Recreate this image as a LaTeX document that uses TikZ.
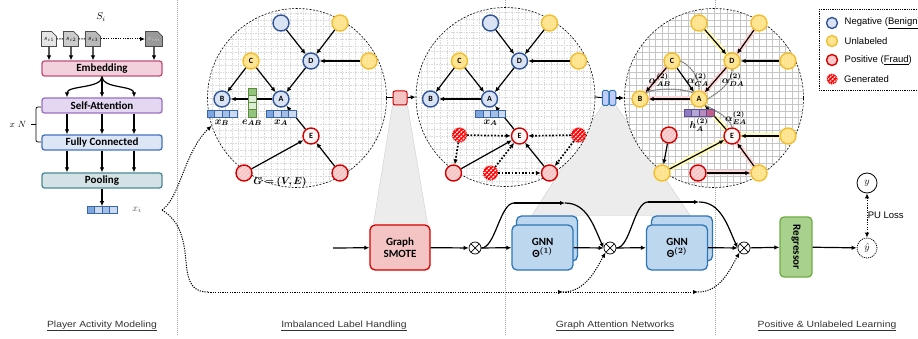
\documentclass[tikz,border=0pt]{standalone}
\usepackage{amsmath,amssymb,bm}
\usepackage{fontspec}
\setsansfont{Carlito}
\newfontfamily\arialfont{Liberation Sans}
\newfontfamily\secfam[FakeStretch=1.15]{Liberation Sans}
\usetikzlibrary{arrows.meta,positioning,calc,shapes.misc,patterns,patterns.meta}

\definecolor{negb}{HTML}{2F5597}
\definecolor{negf}{HTML}{DAE3F3}
\definecolor{unlb}{HTML}{F2BE2E}
\definecolor{unlf}{HTML}{FFE38A}
\definecolor{posb}{HTML}{D40000}
\definecolor{posf}{HTML}{F4C4C4}
\definecolor{embb}{HTML}{C0507A}
\definecolor{embf}{HTML}{F2D0DC}
\definecolor{satb}{HTML}{9A6FC0}
\definecolor{satf}{HTML}{E3D7F1}
\definecolor{fcb}{HTML}{4472C4}
\definecolor{fcf}{HTML}{DCE6F5}
\definecolor{poolb}{HTML}{4A8A96}
\definecolor{poolf}{HTML}{D4E2E5}
\definecolor{gnnb}{HTML}{2E75B6}
\definecolor{gnnf}{HTML}{BDD7EE}
\definecolor{regb}{HTML}{70AD47}
\definecolor{regf}{HTML}{A9D18E}
\definecolor{vecb}{HTML}{3A66A8}
\definecolor{vb1}{HTML}{7EA6DE}
\definecolor{vb2}{HTML}{CBDAF0}
\definecolor{vb3}{HTML}{A4BFE6}
\definecolor{grb}{HTML}{5B8C3E}
\definecolor{gr1}{HTML}{93C47D}
\definecolor{gr2}{HTML}{DDEED6}
\definecolor{hp1}{HTML}{8E7CC3}
\definecolor{hp2}{HTML}{B4A7D6}
\definecolor{hp3}{HTML}{B48CC0}
\definecolor{hp4}{HTML}{C0608C}
\definecolor{hpb}{HTML}{5E4E93}

\newcommand\boxfont{\sffamily\bfseries\fontsize{11}{12}\selectfont}
\newcommand\letterfont{\sffamily\bfseries\fontsize{8}{9}\selectfont}
\newcommand\legfont{\arialfont\fontsize{9.5}{10}\selectfont}
\newcommand\secfont{\secfam\fontsize{9}{10}\selectfont}

\pgfdeclarelayer{back}
\pgfdeclarelayer{mid}
\pgfdeclarelayer{glow}
\pgfsetlayers{back,mid,glow,main}

\begin{document}
\begin{tikzpicture}[x=1pt,y=-1pt,>={Latex[length=5pt,width=4.5pt]},
  arr/.style={->,line width=1.2pt},
  darr/.style={->,line width=1.7pt,dash pattern=on 1.7pt off 1.7pt},
  pth/.style={line width=1pt,dash pattern=on 1.2pt off 1.2pt},
  blk/.style={draw,rounded corners=2.5pt,line width=1.3pt,font=\boxfont,inner sep=1pt},
  doc/.style={chamfered rectangle,chamfered rectangle corners=north east,chamfered rectangle xsep=3pt,
    draw=gray!60!black,line width=0.8pt,minimum width=15pt,minimum height=15pt,inner sep=0pt,font=\scriptsize},
  benign/.style={circle,draw=negb,fill=negf,line width=1.4pt,minimum size=16pt,inner sep=0pt,font=\letterfont},
  unlab/.style={circle,draw=unlb,line width=1.4pt,minimum size=16pt,inner sep=0pt,font=\letterfont,
    preaction={fill=unlf},preaction={pattern=dots,pattern color=white}},
  fraud/.style={circle,draw=posb,line width=1.4pt,minimum size=16pt,inner sep=0pt,font=\letterfont,
    preaction={fill=posf},preaction={pattern={Lines[angle=45,distance=3pt,line width=0.9pt]},pattern color=white!85!red}},
  fraudE/.style={circle,draw=posb,fill=red!4,line width=1.4pt,minimum size=16pt,inner sep=0pt,font=\letterfont},
  gen/.style={circle,minimum size=14pt,inner sep=0pt,draw=red,line width=1.2pt,dash pattern=on 1pt off 1pt,
    preaction={fill=red},preaction={pattern={Lines[angle=45,distance=3pt,line width=1.2pt]},pattern color=white}},
  graph/.style={circle,minimum size=179pt,inner sep=0pt,fill=white,draw,line width=0.6pt,
    dash pattern=on 2pt off 1.5pt,
    path picture={\draw[#1,line width=0.3pt,step=6.5pt] (path picture bounding box.south west) grid (path picture bounding box.north east);}},
  graph/.default={gray!30,dash pattern=on 1.5pt off 1pt},
  vec/.style n args={2}{draw=#2,line width=0.6pt,minimum width=30pt,minimum height=7pt,inner sep=0pt,
    path picture={
      \foreach \c [count=\i from 0,evaluate=\i as \j using \i/4,evaluate=\i as \k using (\i+1)/4] in {#1}
        \fill[\c] ($(path picture bounding box.south west)!\j!(path picture bounding box.south east)$) rectangle
                  ($(path picture bounding box.north west)!\k!(path picture bounding box.north east)$);
      \foreach \j in {0.25,0.5,0.75}
        \draw[#2,line width=0.5pt] ($(path picture bounding box.south west)!\j!(path picture bounding box.south east)$) --
                  ($(path picture bounding box.north west)!\j!(path picture bounding box.north east)$);}},
  vvec/.style n args={2}{draw=#2,line width=0.6pt,minimum width=8pt,minimum height=29pt,inner sep=0pt,
    path picture={
      \foreach \c [count=\i from 0,evaluate=\i as \j using \i/4,evaluate=\i as \k using (\i+1)/4] in {#1}
        \fill[\c] ($(path picture bounding box.north west)!\j!(path picture bounding box.south west)$) rectangle
                  ($(path picture bounding box.north east)!\k!(path picture bounding box.south east)$);
      \foreach \j in {0.25,0.5,0.75}
        \draw[#2,line width=0.5pt] ($(path picture bounding box.north west)!\j!(path picture bounding box.south west)$) --
                  ($(path picture bounding box.north east)!\j!(path picture bounding box.south east)$);}},
  otimes/.style={circle,draw,fill=white,line width=0.7pt,minimum size=12pt,inner sep=0pt,
    path picture={\draw (path picture bounding box.south west) -- (path picture bounding box.north east)
      (path picture bounding box.north west) -- (path picture bounding box.south east);}},
  gnn/.style={blk,draw=gnnb,fill=gnnf,rounded corners=5pt,minimum width=61pt,minimum height=45pt,align=center},
  rglow/.style={line width=5pt,red!16,line cap=round},
  yglow/.style={line width=5pt,yellow!30,line cap=round},
  att/.style={gray,line width=1.3pt,dash pattern=on 1pt off 1.3pt,line cap=round},
  sec/.style={font=\secfont,text=black!80}]

\useasboundingbox (0,0) rectangle (918,339);

% section separators
\begin{pgfonlayer}{back}
\foreach \x in {177,505,715}
  \draw[gray!70,line width=0.4pt,dash pattern=on 1pt off 1pt] (\x,0) -- (\x,336);
\end{pgfonlayer}

% ---------------- player activity modeling
\node (Si) at (101,17) {$S_i$};
\node[doc,fill=gray!20] (s1) at (49,39) {$s_{i1}$};
\node[doc,fill=gray!40] (s2) at (71,39) {$s_{i2}$};
\node[doc,fill=gray!55] (s3) at (93,39) {$s_{i3}$};
\node[doc,fill=gray!80,text=white!80!black] (sm) at (154,39) {$s_{im}$};
\draw[pth] (s1) -- (s2);
\draw[pth] (s2) -- (s3);
\draw[pth,->] (s3) -- (sm);

\node[blk,draw=embb,fill=embf,minimum width=120pt,minimum height=15pt] (emb) at (102,68.5) {Embedding};
\node[blk,draw=satb,fill=satf,minimum width=120pt,minimum height=15pt] (sa) at (102,105.5) {Self-Attention};
\node[blk,draw=fcb,fill=fcf,minimum width=120pt,minimum height=15pt] (fc) at (102,142.5) {Fully Connected};
\node[blk,draw=poolb,fill=poolf,minimum width=120pt,minimum height=15pt] (pool) at (102,180.5) {Pooling};

\foreach \s in {s1,s2,s3,sm}
  \draw[arr] (\s) -- (\s |- emb.north);
\draw[arr] (emb.south) .. controls +(0,12) and +(0,-12) .. (67,0 |- sa.north);
\draw[arr] (emb.south) -- (sa.north);
\draw[arr] (emb.south) .. controls +(0,12) and +(0,-12) .. (134,0 |- sa.north);
\foreach \x in {67,102,134} {
  \draw[arr] (\x,0 |- sa.south) -- (\x,0 |- fc.north);
  \draw[arr] (\x,0 |- fc.south) -- (\x,0 |- pool.north);
}
\draw[line width=0.7pt,rounded corners=2pt] (41,107) -- (36,107) -- (36,142) -- (41,142);
\draw[line width=0.7pt] (36,124.5) -- (31,124.5);
\node[font=\small] (rep) at (18,124.5) {$x\ N$};

\node[vec={vb1,vb2,vb3,vb2}{vecb}] (xi) at (102,210) {};
\draw[arr] (pool.south) -- (xi.north);
\node[text=black!70] (xil) at (137,210) {$x_i$};
\coordinate (fork) at (162,210);

% ---------------- zoom shades
\node[draw=posb,fill=posf,rounded corners=2pt,minimum size=14pt,line width=1pt] (sq1) at (400,98) {};
\node[draw=gnnb,fill=gnnf!80!blue!60,rounded corners=1.5pt,minimum width=6.5pt,minimum height=15pt,inner sep=0pt,line width=1pt] (sq2a) at (605.5,98) {};
\node[draw=gnnb,fill=gnnf!80!blue!60,rounded corners=1.5pt,minimum width=6.5pt,minimum height=15pt,inner sep=0pt,line width=1pt] (sq2b) at (612.5,98) {};

% ---------------- graphs
\begin{pgfonlayer}{mid}
\node[graph] (graph1) at (297,98) {};
\node[graph] (graph2) at (505.5,97) {};
\node[graph={gray!45,solid}] (graph3) at (714,98) {};
\end{pgfonlayer}

\begin{scope}[shift={(297,98)}]
\node[benign] (n1) at (-16,-75) {};
\node[unlab] (ua1) at (43,-75) {};
\node[benign] (D1) at (14,-37) {D};
\node[unlab] (ub1) at (72,-37) {};
\node[unlab] (C1) at (-46,-37) {C};
\node[benign] (B1) at (-75,1) {B};
\node[benign] (A1) at (-16,1) {A};
\node[fraudE] (E1) at (14,38) {E};
\node[fraud] (pa1) at (-53,75) {};
\node[fraud] (pb1) at (43,75) {};
\foreach \s/\t in {n1/D1,ua1/D1,ub1/D1,D1/A1,C1/B1,C1/A1,A1/B1,E1/A1,pa1/E1,pb1/E1}
  \draw[arr] (\s) -- (\t);
\node[vec={vb1,vb2,vb3,vb2}{vecb}] (xB1) at (-75,15.5) {};
\node[vvec={gr1,gr2,gr2,gr1}{grb}] (eAB1) at (-45,4.5) {};
\node[vec={vb1,vb2,vb3,vb2}{vecb}] (xA1) at (-16,15.5) {};
\node[below=-1pt of xB1] {$\bm{x_B}$};
\node[below=-1pt of eAB1] {$\bm{e_{AB}}$};
\node[below=-1pt of xA1] {$\bm{x_A}$};
\node (G) at (-17,84) {$\bm{G=(V,E)}$};
\end{scope}

\begin{scope}[shift={(505.5,97)}]
\node[benign] (n2) at (-15,-74) {};
\node[unlab] (ua2) at (44,-74) {};
\node[benign] (D2) at (14,-36) {D};
\node[unlab] (ub2) at (73,-36) {};
\node[unlab] (C2) at (-46,-36) {C};
\node[benign] (B2) at (-75,2) {B};
\node[benign] (A2) at (-16,2) {A};
\node[fraudE] (E2) at (14,39) {E};
\node[gen] (ga2) at (-46,38) {};
\node[gen] (gb2) at (73,38) {};
\node[gen] (gc2) at (-15,76) {};
\node[fraud] (pa2) at (-52,76) {};
\node[fraud] (pb2) at (44,76) {};
\foreach \s/\t in {n2/D2,ua2/D2,ub2/D2,D2/A2,C2/B2,C2/A2,A2/B2,E2/A2,pa2/E2,pb2/E2}
  \draw[arr] (\s) -- (\t);
\foreach \s/\t in {ga2/E2,gb2/E2,ga2/pa2,gb2/pb2,gc2/E2,gc2/pb2}
  \draw[darr] (\s) -- (\t);
\node[vec={vb1,vb2,vb3,vb2}{vecb}] (xA2) at (-15,16.5) {};
\node[below=-1pt of xA2] {$\bm{x_A}$};
\end{scope}

\begin{scope}[shift={(714,98)}]
\node[unlab] (n3) at (-15,-75) {};
\node[unlab] (ua3) at (45,-75) {};
\node[unlab] (D3) at (18,-37) {D};
\node[unlab] (ub3) at (74,-37) {};
\node[unlab] (C3) at (-42,-37) {C};
\node[unlab] (B3) at (-74,1) {B};
\node[unlab] (A3) at (-15,1) {A};
\node[fraudE] (E3) at (18,38) {E};
\node[unlab] (uc3) at (74,38) {};
\node[fraud] (pa3) at (-45,37) {};
\node[unlab] (ud3) at (-52,75) {};
\node[fraud] (pb3) at (-16,75) {};
\node[unlab] (ue3) at (45,75) {};
\begin{pgfonlayer}{glow}
\foreach \s/\t in {ua3/D3,C3/B3,A3/B3,pb3/ue3,ue3/E3,D3/A3}
  \draw[rglow] (\s) -- (\t);
\foreach \s/\t in {n3/D3,uc3/E3,ud3/E3,E3/A3}
  \draw[yglow] (\s) -- (\t);
\end{pgfonlayer}
\foreach \s/\t in {n3/D3,ua3/D3,ub3/D3,D3/A3,C3/B3,C3/A3,A3/B3,E3/A3,uc3/E3,pa3/ud3,ud3/E3,pb3/ue3,ue3/E3}
  \draw[arr] (\s) -- (\t);
\draw[att] (B3.north east) .. controls (-62,-10) and (-30,-10) .. (A3.north west);
\draw[att] (C3.east) .. controls (-25,-33) and (-14,-22) .. (A3.north);
\draw[att] (D3.south) .. controls (18,-15) and (5,-6) .. (A3.east);
\draw[att] (E3.north) .. controls (16,20) and (4,14) .. (A3.south east);
\node[vec={hp1,hp2,hp3,hp4}{hpb}] (hA3) at (-15,15) {};
\node[below=-2pt of hA3] {$\bm{h_A^{(2)}}$};
\node (aAB) at (-54,-18) {$\bm{\alpha_{AB}^{(2)}}$};
\node (aCA) at (-16,-18) {$\bm{\alpha_{CA}^{(2)}}$};
\node (aDA) at (19,-18) {$\bm{\alpha_{DA}^{(2)}}$};
\node (aEA) at (22,20) {$\bm{\alpha_{EA}^{(2)}}$};
\end{scope}

\draw[line width=1pt] (graph1.east) -- (sq1);
\draw[arr] (sq1) -- (graph2.west);
\draw[line width=1pt] (graph2.east) -- (sq2a);
\draw[arr] (sq2b) -- (graph3.west);

% ---------------- pipeline
\coordinate (inp) at (333,248);
\node[blk,draw=posb,fill=posf,rounded corners=5pt,minimum width=60pt,minimum height=45pt,align=center] (smote) at (400,247.5) {Graph\\SMOTE};
\node[otimes] (o1) at (475,248) {};
\node[gnn] (gnn1b) at (547,238.5) {};
\node[gnn] (gnn1) at (542.5,247.5) {GNN\\Θ$^{\bm{(1)}}$};
\node[otimes] (o2) at (610,248) {};
\node[gnn] (gnn2b) at (682,238.5) {};
\node[gnn] (gnn2) at (677,247.5) {GNN\\Θ$^{\bm{(2)}}$};
\node[otimes] (o3) at (744,248) {};
\node[blk,draw=regb,fill=regf,rounded corners=4pt,rotate=-90,minimum width=60pt,minimum height=32pt] (reg) at (796,247) {Regressor};
\node[circle,draw,line width=0.8pt,dash pattern=on 1pt off 1pt,minimum size=20pt,inner sep=0pt] (yhat) at (867,248) {$\hat{y}$};
\node[circle,draw,line width=0.8pt,minimum size=20pt,inner sep=0pt] (y) at (867,183) {$y$};

\draw[arr] (inp) -- (smote);
\draw[arr] (smote) -- (o1);
\draw[arr] (o1) -- (gnn1);
\draw[arr] (gnn1) -- (o2);
\draw[arr] (o2) -- (gnn2);
\draw[arr] (gnn2) -- (o3);
\draw[arr] (o3) -- (reg);
\draw[arr] (reg) -- (yhat);
\draw[line width=1pt,dash pattern=on 1.2pt off 1.2pt,<->] (y) -- (yhat) node[pos=0.5,anchor=west,xshift=-3pt,font=\legfont] {PU Loss};

\coordinate (sk1) at (514,203);
\coordinate (sk2) at (565,203);
\coordinate (sk3) at (648,202);
\coordinate (sk4) at (699,202);
\draw[line width=1.2pt] (o1.east) .. controls +(14,0) and +(-14,0) .. (sk1);
\draw[arr] (sk1) -- (sk2);
\draw[arr] (sk2) .. controls +(22,0) and +(-10,-22) .. (o2.west);
\draw[line width=1.2pt] (o2.east) .. controls +(14,0) and +(-14,0) .. (sk3);
\draw[arr] (sk3) -- (sk4);
\draw[arr] (sk4) .. controls +(22,0) and +(-10,-22) .. (o3.west);

% x_i feeds
\coordinate (low) at (208,292);
\coordinate (mid1) at (563,292);
\coordinate (mid2) at (698,292);
\draw[pth,->] (fork) .. controls (180,198) and (184,152) .. (graph1.198);
\draw[pth] (fork) .. controls (178,220) and (184,235) .. (186,262) .. controls (188,285) and (194,292) .. (low);
\draw[pth,->] (low) -- (mid1);
\draw[pth,->] (mid1) .. controls +(22,0) and +(-10,18) .. (o2.south west);
\draw[pth,->] (mid1) -- (mid2);
\draw[pth,->] (mid2) .. controls +(22,0) and +(-10,18) .. (o3.south west);

% shades
\begin{pgfonlayer}{back}
\fill[gray!15,draw=gray!45,line width=0.3pt] (sq1.south west) -- (sq1.south east) -- ($(smote.north east)+(-3,0)$) -- ($(smote.north west)+(4,0)$) -- cycle;
\fill[gray!15,draw=gray!45,line width=0.3pt] (sq2a.south west) -- (sq2b.south east) -- ($(gnn2b.north)+(8,0)$) -- ($(gnn1b.north)+(-15,0)$) -- cycle;
\end{pgfonlayer}

% ---------------- legend
\draw[line width=0.8pt,dash pattern=on 0.8pt off 1pt] (819,9) rectangle (940,90);
\node[benign,minimum size=11pt] (lneg) at (832,23) {};
\node[unlab,minimum size=11pt] (lunl) at (832,41) {};
\node[fraud,minimum size=11pt] (lpos) at (832,60) {};
\node[gen,minimum size=10pt] (lgen) at (832,79) {};
\node[right=3pt of lneg,font=\legfont] {Negative (\underline{Benign})};
\node[right=3pt of lunl,font=\legfont] {Unlabeled};
\node[right=3pt of lpos,font=\legfont] {Positive (\underline{Fraud})};
\node[right=3pt of lgen,font=\legfont] {Generated};

% ---------------- section titles
\node[sec] (t1) at (102,326) {\underline{Player Activity Modeling}};
\node[sec] (t2) at (344,326) {\underline{Imbalanced Label Handling}};
\node[sec] (t3) at (615,326) {\underline{Graph Attention Networks}};
\node[sec] (t4) at (827,326) {\underline{Positive \& Unlabeled Learning}};
\end{tikzpicture}
\end{document}
